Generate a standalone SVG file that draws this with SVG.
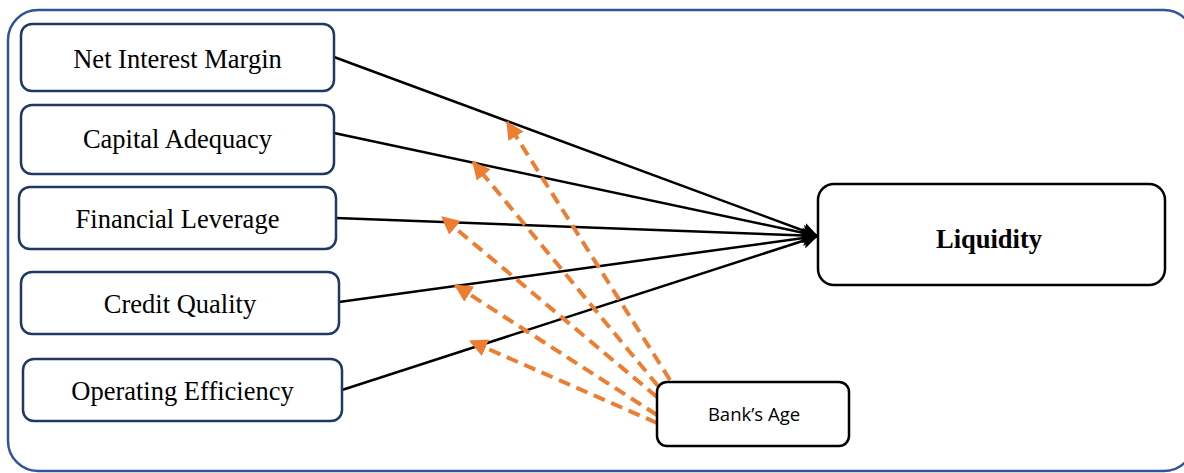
<svg xmlns="http://www.w3.org/2000/svg" width="1184" height="473" viewBox="0 0 1184 473">
<defs>
<style>
.frame{fill:none;stroke:#2f5597;stroke-width:2.5}
.iv{fill:#fff;stroke:#1f3864;stroke-width:2.5}
.bk{fill:#fff;stroke:#000;stroke-width:2.5}
.t{font-family:"Liberation Serif","Times New Roman",serif;font-size:26.5px;fill:#000;text-anchor:middle}
.tb{font-family:"Liberation Serif","Times New Roman",serif;font-size:26.5px;font-weight:bold;fill:#000;text-anchor:middle}
.ts{font-family:"Open Sans","Liberation Sans",sans-serif;font-size:18.5px;fill:#000;text-anchor:middle}
.ln{fill:none;stroke:#000;stroke-width:2.5;marker-end:url(#ab)}
.dl{fill:none;stroke:#ed7d31;stroke-width:4;stroke-dasharray:12 7;marker-end:url(#ao)}
</style>
<marker id="ab" markerWidth="16" markerHeight="16" refX="14" refY="7" orient="auto" markerUnits="userSpaceOnUse" viewBox="0 0 14 14">
<path d="M0,0 L14,7 L0,14 L3,7 Z" fill="#000"/>
</marker>
<marker id="ao" markerWidth="18" markerHeight="18" refX="15" refY="8" orient="auto" markerUnits="userSpaceOnUse" viewBox="0 0 16 16">
<path d="M0,0 L16,8 L0,16 Z" fill="#ed7d31"/>
</marker>
</defs>
<rect width="1184" height="473" fill="#fff"/>
<rect class="frame" x="8" y="10" width="1186" height="461" rx="30"/>
<g id="connectors">
<line class="ln" x1="334" y1="57" x2="818" y2="236"/>
<line class="ln" x1="334" y1="133" x2="818" y2="236"/>
<line class="ln" x1="336" y1="218" x2="818" y2="236"/>
<line class="ln" x1="339" y1="302" x2="818" y2="236"/>
<line class="ln" x1="342" y1="390" x2="818" y2="236"/>
<line class="dl" x1="670" y1="380" x2="507" y2="122"/>
<line class="dl" x1="658" y1="386" x2="473" y2="162"/>
<line class="dl" x1="657" y1="397" x2="442" y2="217"/>
<line class="dl" x1="657" y1="415" x2="455" y2="285"/>
<line class="dl" x1="657" y1="423" x2="470" y2="341"/>
</g>
<g id="nim"><rect class="iv" x="21" y="24" width="313" height="67" rx="11"/><text class="t" x="177.5" y="68">Net Interest Margin</text></g>
<g id="ca"><rect class="iv" x="21" y="105" width="313" height="69" rx="11"/><text class="t" x="177.5" y="148">Capital Adequacy</text></g>
<g id="fl"><rect class="iv" x="19" y="187" width="317" height="62" rx="11"/><text class="t" x="177.5" y="228">Financial Leverage</text></g>
<g id="cq"><rect class="iv" x="21" y="272" width="318" height="62" rx="11"/><text class="t" x="180" y="313">Credit Quality</text></g>
<g id="oe"><rect class="iv" x="23" y="359" width="319" height="62" rx="11"/><text class="t" x="182.5" y="400">Operating Efficiency</text></g>
<g id="liq"><rect class="bk" x="818" y="184" width="347" height="101" rx="16"/><text class="tb" x="989" y="248">Liquidity</text></g>
<g id="age"><rect class="bk" x="657" y="382" width="192" height="64" rx="10"/><text class="ts" x="754" y="421">Bank’s Age</text></g>
</svg>
